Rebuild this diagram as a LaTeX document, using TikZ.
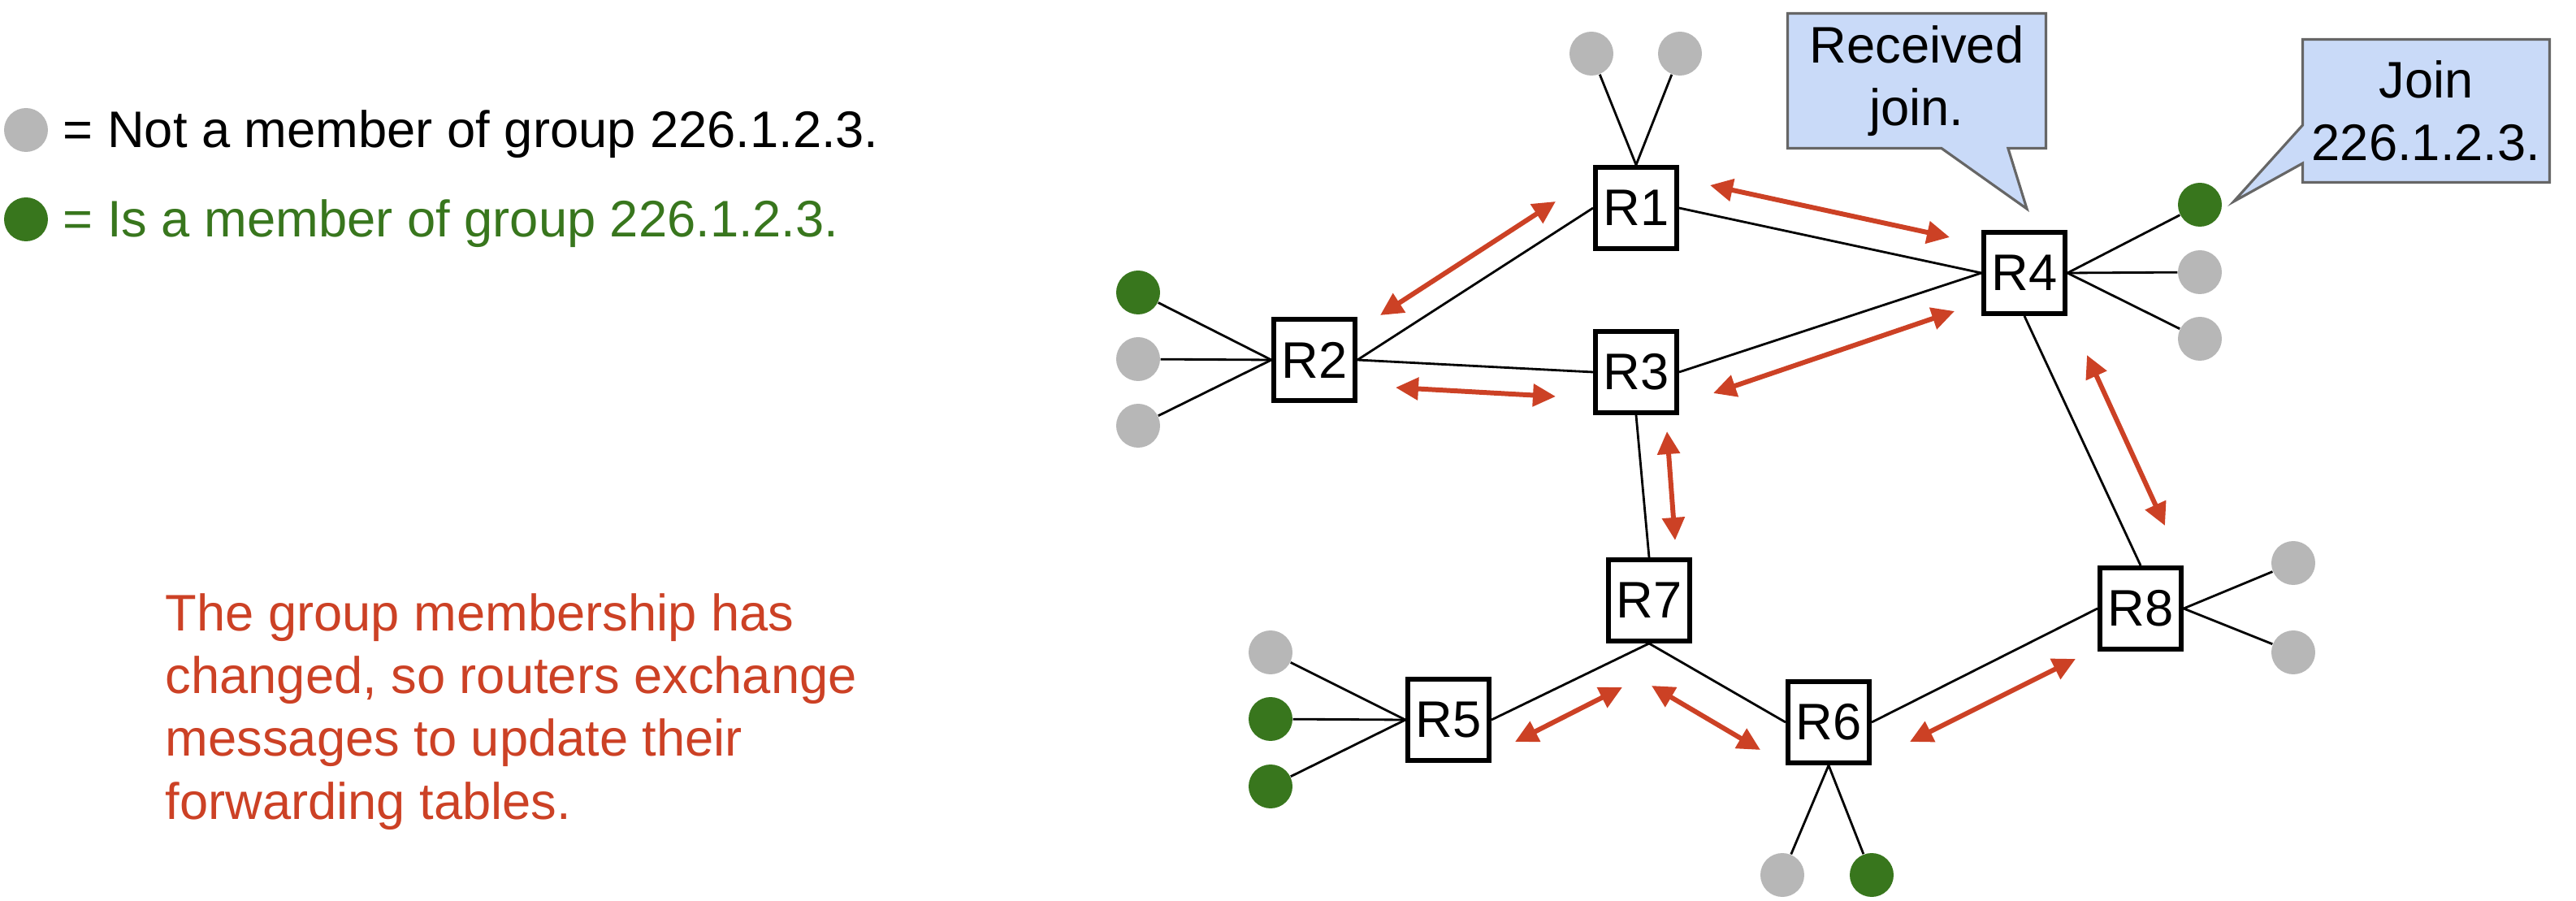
\documentclass[tikz,border=0pt]{standalone}
\usepackage{fontspec}
\setmainfont{Liberation Sans}
\usetikzlibrary{calc, arrows.meta, shapes.callouts}
\definecolor{hostgray}{HTML}{B7B7B7}
\definecolor{memgreen}{HTML}{38761D}
\definecolor{msgred}{HTML}{CC4125}
\definecolor{noteblue}{HTML}{C9DAF8}
\definecolor{noteline}{HTML}{666666}

\begin{document}
\begin{tikzpicture}[
    font=\fontsize{18}{22}\selectfont,
    router/.style={draw, line width=1.7pt, minimum size=1cm, inner sep=0pt},
    host/.style={circle, minimum size=0.54cm, inner sep=0pt},
    link/.style={line width=0.8pt},
    msg/.style={draw=msgred, line width=1.7pt, {Triangle[length=0.28cm,width=0.27cm]}-{Triangle[length=0.28cm,width=0.27cm]}},
    note/.style={rectangle callout, fill=noteblue, draw=noteline, line width=0.9pt, align=center, inner sep=0pt}
  ]
  \useasboundingbox (0,0) rectangle (31.71,-11.09);

  \node[host, fill=hostgray] (lgray) at (0.32,-1.60) {};
  \node[host, fill=memgreen] (lgreen) at (0.32,-2.70) {};
  \node[anchor=base west, inner sep=0pt] (lnot) at (0.77,-1.82) {= Not a member of group 226.1.2.3.};
  \node[anchor=base west, inner sep=0pt, text=memgreen] (lis) at (0.77,-2.92) {= Is a member of group 226.1.2.3.};

  \node[anchor=base west, inner sep=0pt, align=left, text=msgred] (expl) at (2.03,-10.08)
    {The group membership has\\changed, so routers exchange\\messages to update their\\forwarding tables.};

  \foreach \n/\p in {1/{20.14,-2.56}, 2/{16.18,-4.43}, 3/{20.14,-4.58}, 4/{24.92,-3.36},
                     5/{17.83,-8.86}, 6/{22.51,-8.89}, 7/{20.30,-7.39}, 8/{26.35,-7.49}}
    \node[router] (r\n) at (\p) {R\n};

  \foreach \h/\p/\c/\rt in {h1a/{19.59,-0.66}/hostgray/r1.north, h1b/{20.68,-0.66}/hostgray/r1.north,
      h2a/{14.01,-3.60}/memgreen/r2.west, h2b/{14.01,-4.42}/hostgray/r2.west, h2c/{14.01,-5.24}/hostgray/r2.west,
      h4a/{27.08,-2.52}/memgreen/r4.east, h4b/{27.08,-3.35}/hostgray/r4.east, h4c/{27.08,-4.17}/hostgray/r4.east,
      h8a/{28.23,-6.93}/hostgray/r8.east, h8b/{28.23,-8.03}/hostgray/r8.east,
      h5a/{15.64,-8.03}/hostgray/r5.west, h5b/{15.64,-8.85}/memgreen/r5.west, h5c/{15.64,-9.68}/memgreen/r5.west,
      h6a/{21.94,-10.77}/hostgray/r6.south, h6b/{23.04,-10.77}/memgreen/r6.south}
  {
    \node[host, fill=\c] (\h) at (\p) {};
    \draw[link] (\h) -- (\rt);
  }

  \foreach \a/\b in {r1.west/r2.east, r2.east/r3.west, r1.east/r4.west, r3.east/r4.west, r3.south/r7.north,
                     r4.south/r8.north, r5.east/r7.south, r7.south/r6.west, r6.east/r8.west}
    \draw[link] (\a) -- (\b);

  \foreach \n/\a/\b in {21/{16.99,-3.88}/{19.15,-2.48}, 23/{17.18,-4.77}/{19.15,-4.88},
      14/{21.05,-2.28}/{24.00,-2.92}, 34/{21.09,-4.84}/{24.06,-3.83}, 37/{20.52,-5.31}/{20.62,-6.65},
      48/{25.69,-4.37}/{26.65,-6.47}, 57/{18.65,-9.13}/{19.97,-8.46}, 76/{20.33,-8.44}/{21.67,-9.23},
      68/{23.51,-9.13}/{25.55,-8.11}}
  {
    \coordinate (m\n-s) at (\a);
    \coordinate (m\n-t) at (\b);
    \draw[msg] (m\n-s) -- (m\n-t);
  }

  \node[note, minimum width=3.18cm, minimum height=1.66cm, callout pointer width=0.82cm,
        callout absolute pointer={($(r4.north)+(0.03,0.26)$)}] (recv) at (23.595,-0.995) {Received\\join.};
  \node[note, minimum width=3.04cm, minimum height=1.76cm, callout pointer width=0.47cm,
        callout absolute pointer={($(h4a.east)+(0.14,0.04)$)}] (joinmsg) at (29.865,-1.365) {Join\\226.1.2.3.};
\end{tikzpicture}
\end{document}
